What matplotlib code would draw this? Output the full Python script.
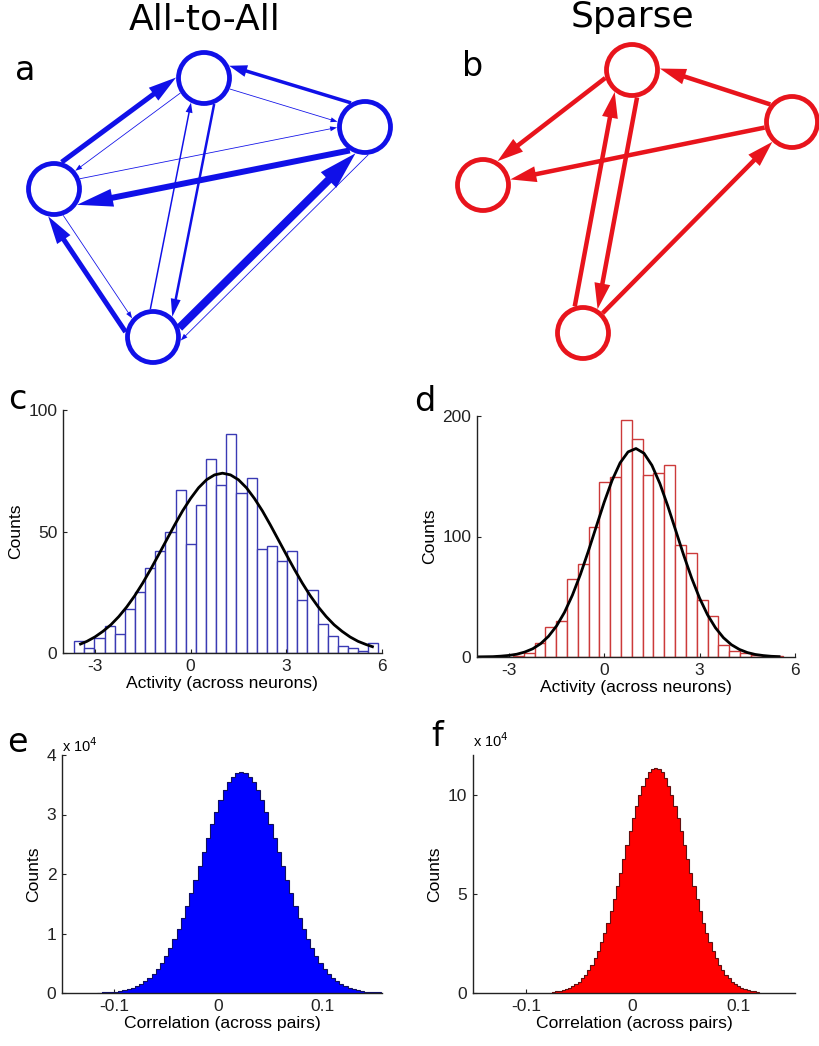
import numpy as np
import matplotlib.pyplot as plt
from matplotlib.patches import Circle, Polygon
from matplotlib.ticker import FuncFormatter

plt.rcParams['axes.unicode_minus'] = False

W, H = 819, 1046
BLUE = '#1010e8'
RED = '#e8141c'

# ---- network layouts (pixel coords of the top panel) ----
nodes_a = {'T': (204, 78), 'R': (365, 127), 'L': (54, 189), 'B': (153, 337)}
# src, dst, line width px, side offset px, head length px, head half-width px
edges_a = [
    ('L', 'T', 5.0, 17, 28, 8),
    ('T', 'L', 0.8, -2, 7, 2.5),
    ('R', 'T', 3.5, -19, 18, 6),
    ('T', 'R', 0.8, -3, 7, 2.5),
    ('R', 'L', 6.0, 20, 36, 9),
    ('L', 'R', 0.8, 5, 7, 2.5),
    ('B', 'R', 8.0, -12, 38, 11),
    ('R', 'B', 0.8, 22, 7, 2.5),
    ('B', 'L', 5.0, 20, 28, 8),
    ('L', 'B', 0.8, -7, 7, 2.5),
    ('B', 'T', 1.5, 8, 10, 3.5),
    ('T', 'B', 2.5, 15, 18, 5),
]
nodes_b = {'T': (632, 70), 'R': (792, 122), 'L': (483, 185), 'B': (583, 333)}
edges_b = [
    ('T', 'L', 4.5, -10, 26, 8),
    ('R', 'T', 4.5, -10, 26, 8),
    ('R', 'L', 4.5, 0, 26, 8),
    ('B', 'T', 4.5, 13, 26, 8),
    ('T', 'B', 4.5, 10, 26, 8),
    ('B', 'R', 4.5, 0, 26, 8),
]

# ---- c: activity histogram, all-to-all ----
c_bin_start, c_bin_width = -3.65, 0.318
c_counts = [5, 2, 6, 11, 8, 18, 25, 35, 42, 50, 67, 45, 61, 80, 69,
            90, 66, 72, 43, 44, 38, 42, 22, 26, 12, 7, 3, 2, 1, 4]
c_fit_x = [-3.45, -3.25] + list(np.arange(-3.0, 5.51, 0.25)) + [5.7]
c_fit_y = [3.7, 4.8, 6.6, 8.9, 11.6, 15.0, 19.0, 23.6, 28.8, 34.5, 40.5, 46.6,
           52.7, 58.5, 63.6, 68.0, 71.3, 73.3, 74.0, 73.3, 71.3, 68.0, 63.6,
           58.5, 52.7, 46.6, 40.5, 34.5, 28.8, 23.6, 19.0, 15.0, 11.6, 8.9,
           6.6, 4.8, 3.5, 2.6]

# ---- d: activity histogram, sparse ----
d_bin_start, d_bin_width = -2.87, 0.34
d_counts = [1, 3, 12, 25, 30, 65, 77, 108, 145, 149, 197, 181, 151, 153, 159,
            93, 86, 47, 34, 10, 5, 3, 2, 1, 1]
d_fit_x = list(np.arange(-4.0, 5.51, 0.25))
d_fit_y = [0.1, 0.2, 0.3, 0.7, 1.3, 2.3, 4.1, 6.8, 11.0, 17.2, 25.7, 37.0,
           51.3, 68.4, 87.7, 108.2, 128.5, 146.7, 161.1, 170.2, 173.0, 169.1,
           159.1, 144.0, 125.3, 104.9, 84.5, 65.5, 48.8, 35.0, 24.2, 16.0,
           10.2, 6.3, 3.7, 2.1, 1.2, 0.6, 0.3]

# ---- e: correlation histogram, all-to-all ----
e_bin_start, e_bin_width = -0.116, 0.004
e_counts = [60, 90, 130, 180, 250, 350, 480, 660, 880, 1170, 1530, 1980, 2550,
            3230, 4060, 5040, 6180, 7500, 9010, 10700, 12560, 14590, 16750,
            19030, 21380, 23750, 26100, 28360, 30470, 32390, 34040, 35390,
            36380, 36990, 37200, 36990, 36380, 35390, 34040, 32390, 30470,
            28360, 26100, 23750, 21380, 19030, 16750, 14590, 12560, 10700,
            9010, 7500, 6180, 5040, 4060, 3230, 2550, 1980, 1530, 1170, 880,
            660, 480, 350, 250, 180, 130, 90, 60]

# ---- f: correlation histogram, sparse ----
f_bin_start, f_bin_width = -0.0755, 0.003
f_counts = [570, 790, 1080, 1470, 1970, 2620, 3440, 4480, 5770, 7360, 9290,
            11610, 14350, 17550, 21260, 25470, 30200, 35460, 41190, 47360,
            53900, 60710, 67670, 74660, 81520, 88100, 94220, 99740, 104490,
            108340, 111180, 112910, 113500, 112910, 111180, 108340, 104490,
            99740, 94220, 88100, 81520, 74660, 67670, 60710, 53900, 47360,
            41190, 35460, 30200, 25470, 21260, 17550, 14350, 11610, 9290,
            7360, 5770, 4480, 3440, 2620, 1970, 1470, 1080, 790, 570]

LABEL_FONT = {'family': 'Liberation Sans', 'size': 12.6}
TICK_SIZE = 12.5
PX = 0.72  # points per pixel at dpi 100


def draw_network(ax, nodes, edges, color, r=25.5, ring=4.8):
    R = r + ring / 2
    for src, dst, w, off, hl, hw in edges:
        p = np.array(nodes[src], float)
        q = np.array(nodes[dst], float)
        d = (q - p) / np.hypot(*(q - p))
        n = np.array([d[1], -d[0]])
        o = np.sign(off) * min(abs(off), R - 2)
        along = np.sqrt(R ** 2 - o ** 2)
        start = p + o * n + along * d
        tip = q + o * n - along * d
        base = tip - hl * d
        stop = base + 1.0 * d
        ax.plot([start[0], stop[0]], [start[1], stop[1]], color=color,
                lw=w * PX, solid_capstyle='butt', zorder=2)
        ax.add_patch(Polygon([tip, base + hw * n, base - hw * n],
                             closed=True, facecolor=color, lw=0, zorder=2))
    for (x, y) in nodes.values():
        ax.add_patch(Circle((x, y), r, facecolor='white', edgecolor=color,
                            lw=ring * PX, zorder=3))


def axes_px(left, right, top, bottom):
    return fig.add_axes([left / W, 1 - bottom / H, (right - left) / W,
                         (bottom - top) / H])


def style(ax):
    for s in ('top', 'right'):
        ax.spines[s].set_visible(False)
    for s in ('left', 'bottom'):
        ax.spines[s].set_color('#222222')
        ax.spines[s].set_linewidth(1.0)
    ax.tick_params(direction='in', length=3, width=0.8, pad=4,
                   labelsize=TICK_SIZE, colors='#222222')
    for lab in ax.get_xticklabels() + ax.get_yticklabels():
        lab.set_family('Liberation Sans')
    ax.set_ylabel('Counts', fontdict=LABEL_FONT, labelpad=4)


fig = plt.figure(figsize=(W / 100, H / 100), dpi=100)

# networks
net = fig.add_axes([0, 1 - 370 / H, 1, 370 / H])
net.set_xlim(0, W)
net.set_ylim(370, 0)
net.axis('off')
draw_network(net, nodes_a, edges_a, BLUE)
draw_network(net, nodes_b, edges_b, RED)

fig.text(205 / W, 1 - 20 / H, 'All-to-All', fontsize=26, ha='center', va='center')
fig.text(632 / W, 1 - 17 / H, 'Sparse', fontsize=26, ha='center', va='center')
for lab, x, y in [('a', 25, 70), ('b', 473, 67), ('c', 17, 400),
                  ('d', 425, 402), ('e', 17, 742), ('f', 437, 737)]:
    fig.text(x / W, 1 - y / H, lab, fontsize=24, ha='center', va='center')

# c
ax = axes_px(63, 382, 410, 653)
c_edges = c_bin_start + c_bin_width * np.arange(len(c_counts) + 1)
ax.bar(c_edges[:-1], c_counts, width=c_bin_width, align='edge',
       facecolor='white', edgecolor='#3a3ab4', lw=1.0)
ax.plot(c_fit_x, c_fit_y, color='black', lw=2)
ax.set_xlim(-4, 6)
ax.set_ylim(0, 100)
ax.set_xticks([-3, 0, 3, 6])
ax.set_yticks([0, 50, 100])
style(ax)
ax.set_xlabel('Activity (across neurons)', fontdict=LABEL_FONT, labelpad=2)

# d
ax = axes_px(477, 795, 416, 657)
d_edges = d_bin_start + d_bin_width * np.arange(len(d_counts) + 1)
ax.bar(d_edges[:-1], d_counts, width=d_bin_width, align='edge',
       facecolor='white', edgecolor='#cc3a3a', lw=1.0)
ax.plot(d_fit_x, d_fit_y, color='black', lw=2)
ax.set_xlim(-4, 6)
ax.set_ylim(0, 200)
ax.set_xticks([-3, 0, 3, 6])
ax.set_yticks([0, 100, 200])
style(ax)
ax.set_xlabel('Activity (across neurons)', fontdict=LABEL_FONT, labelpad=2)

sci = FuncFormatter(lambda v, pos: f'{v / 1e4:g}')

# e
ax = axes_px(62, 382, 755, 993)
e_edges = e_bin_start + e_bin_width * np.arange(len(e_counts) + 1)
ax.stairs(e_counts, e_edges, fill=True, color='#0000ff', zorder=2)
ax.stairs(e_counts, e_edges, color='#101060', lw=0.8, zorder=3)
ax.set_xlim(-0.15, 0.157)
ax.set_ylim(0, 4e4)
ax.set_xticks([-0.1, 0, 0.1])
ax.set_xticklabels(['-0.1', '0', '0.1'])
ax.set_yticks([0, 1e4, 2e4, 3e4, 4e4])
ax.yaxis.set_major_formatter(sci)
style(ax)
ax.set_xlabel('Correlation (across pairs)', fontdict=LABEL_FONT, labelpad=2)
ax.text(0.0, 1.0, r'x 10$^4$', transform=ax.transAxes, ha='left', va='bottom',
        fontsize=10.5, family='Liberation Sans')

# f
ax = axes_px(473, 795, 755, 993)
f_edges = f_bin_start + f_bin_width * np.arange(len(f_counts) + 1)
ax.stairs(f_counts, f_edges, fill=True, color='#ff0000', zorder=2)
ax.stairs(f_counts, f_edges, color='#601010', lw=0.8, zorder=3)
ax.set_xlim(-0.15, 0.153)
ax.set_ylim(0, 12e4)
ax.set_xticks([-0.1, 0, 0.1])
ax.set_xticklabels(['-0.1', '0', '0.1'])
ax.set_yticks([0, 5e4, 10e4])
ax.yaxis.set_major_formatter(sci)
style(ax)
ax.set_xlabel('Correlation (across pairs)', fontdict=LABEL_FONT, labelpad=2)
ax.text(0.0, 1.02, r'x 10$^4$', transform=ax.transAxes, ha='left', va='bottom',
        fontsize=10.5, family='Liberation Sans')

fig.savefig('out.png', dpi=100)
